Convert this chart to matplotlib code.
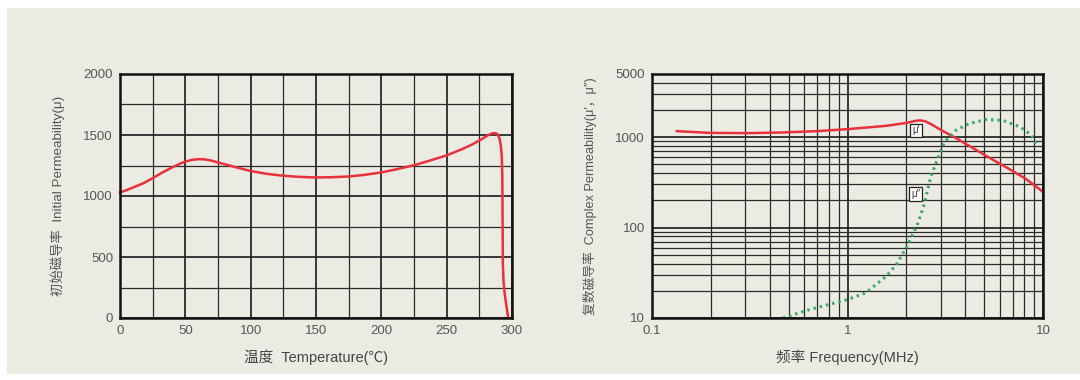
import matplotlib
matplotlib.use("Agg")
import matplotlib.pyplot as plt
from matplotlib.patches import Rectangle
from matplotlib.ticker import FixedLocator, NullFormatter, LogLocator

plt.rcParams['font.family'] = ['Liberation Sans', 'Noto Sans CJK SC', 'DejaVu Sans']

BG = "#ecebe3"
RED = "#e8313b"
GREEN = "#3aa868"
TEXT = "#555555"

# temperature curve of initial permeability
temp_c = [0, 5, 10, 18, 25, 32, 40, 46, 50, 55, 60, 65, 70, 75, 82, 90, 100,
          112, 125, 137, 150, 162, 175, 187, 200, 212, 225, 237, 250, 262,
          270, 277, 282, 285, 287.5, 289, 290.5, 291.5, 292.2, 292.6,
          292.8, 293.0, 293.5, 294.5, 296, 297.2]
mu_init = [1029, 1048, 1070, 1105, 1146, 1190, 1235, 1265, 1282, 1296, 1302,
           1300, 1290, 1275, 1255, 1232, 1205, 1182, 1166, 1157, 1152, 1154,
           1160, 1173, 1193, 1220, 1252, 1290, 1333, 1385, 1425, 1468, 1500,
           1514, 1515, 1505, 1470, 1410, 1320, 1150, 800, 450, 300, 190, 80, 0]

# complex permeability vs frequency
freq_re = [0.134, 0.196, 0.307, 0.461, 0.693, 1.0, 1.58, 2.02, 2.2, 2.35,
           2.5, 2.7, 2.91, 3.57, 4.37, 5.37, 6.58, 8.06, 10.0]
mu_re = [1166, 1117, 1108, 1127, 1166, 1227, 1336, 1443, 1510, 1535,
         1500, 1380, 1250, 983, 761, 585, 456, 353, 249]

freq_im = [0.467, 0.64, 1.0, 1.24, 1.58, 1.78, 2.02, 2.28, 2.47, 2.66,
           2.91, 3.13, 3.57, 4.16, 5.10, 6.25, 7.67, 8.67, 9.4]
mu_im = [10, 12.4, 16.0, 19.0, 29.0, 39.1, 62.6, 108.9, 181, 359,
         599, 880, 1186, 1406, 1571, 1531, 1291, 1070, 788]

temp_ticks = [0, 50, 100, 150, 200, 250, 300]
perm_ticks = [0, 500, 1000, 1500, 2000]
freq_ticks = [0.1, 1, 10]
freq_labels = ["0.1", "1", "10"]
cplx_ticks = [10, 100, 1000, 5000]
cplx_labels = ["10", "100", "1000", "5000"]

fig = plt.figure(figsize=(10.8, 3.8), dpi=100)
fig.patch.set_facecolor("white")
fig.patches.append(Rectangle((7 / 1080, 0.016), 1 - 7 / 1080, 1 - 8 / 380 - 0.016,
                             transform=fig.transFigure, facecolor=BG,
                             edgecolor="none", zorder=-10))


def style_axes(ax):
    ax.set_facecolor(BG)
    for s in ax.spines.values():
        s.set_linewidth(1.8)
        s.set_color("#111111")
        s.set_zorder(5)
    ax.tick_params(which="both", length=0, labelsize=9.5, colors=TEXT, pad=5)
    ax.grid(which="major", color="#1a1a1a", linewidth=1.2)
    ax.grid(which="minor", color="#2a2a2a", linewidth=0.9)
    ax.set_axisbelow(True)


# left: initial permeability vs temperature
ax1 = fig.add_axes([120 / 1080, 1 - 318 / 380, 392 / 1080, 244 / 380])
style_axes(ax1)
ax1.plot(temp_c, mu_init, color=RED, linewidth=1.8, zorder=3, clip_on=False)
ax1.set_xlim(0, 300)
ax1.set_ylim(0, 2000)
ax1.set_xticks(temp_ticks)
ax1.set_yticks(perm_ticks)
ax1.xaxis.set_minor_locator(FixedLocator(range(25, 300, 50)))
ax1.yaxis.set_minor_locator(FixedLocator(range(250, 2000, 500)))
ax1.set_xlabel("温度  Temperature(℃)", fontsize=10.5, color="#444444", labelpad=9)
ax1.set_ylabel("初始磁导率  Initial Permeability(μ)", fontsize=9.6,
               color="#555555", labelpad=13)

# right: complex permeability vs frequency
ax2 = fig.add_axes([652 / 1080, 1 - 318 / 380, 391 / 1080, 244 / 380])
style_axes(ax2)
ax2.set_xscale("log")
ax2.set_yscale("log")
ax2.plot(freq_re, mu_re, color=RED, linewidth=1.8, zorder=3)
ax2.plot(freq_im, mu_im, color=GREEN, linewidth=2.2,
         linestyle=(0, (0.8, 1.3)), zorder=3)
ax2.set_xlim(0.1, 10)
ax2.set_ylim(10, 5000)
ax2.set_xticks(freq_ticks)
ax2.set_xticklabels(freq_labels)
ax2.set_yticks(cplx_ticks)
ax2.set_yticklabels(cplx_labels)
ax2.xaxis.set_minor_locator(LogLocator(base=10, subs=range(2, 10)))
ax2.yaxis.set_minor_locator(FixedLocator([20, 30, 40, 50, 60, 70, 80, 90,
                                          200, 300, 400, 500, 600, 700, 800, 900,
                                          2000, 3000, 4000]))
ax2.xaxis.set_minor_formatter(NullFormatter())
ax2.yaxis.set_minor_formatter(NullFormatter())
ax2.set_xlabel("频率 Frequency(MHz)", fontsize=10.5, color="#444444", labelpad=9)
ax2.set_ylabel("复数磁导率  Complex Permeability(μ′，μ″)", fontsize=9.2,
               color="#555555", labelpad=13)

box = dict(boxstyle="square,pad=0.2", facecolor="white", edgecolor="#222222",
           linewidth=0.9)
ax2.text(2.24, 1186, "μ′", fontsize=7, ha="center", va="center",
         color="#333333", bbox=box, zorder=6)
ax2.text(2.24, 235, "μ″", fontsize=7, ha="center", va="center",
         color="#333333", bbox=box, zorder=6)

fig.savefig("out.png", dpi=100, facecolor=fig.get_facecolor())
